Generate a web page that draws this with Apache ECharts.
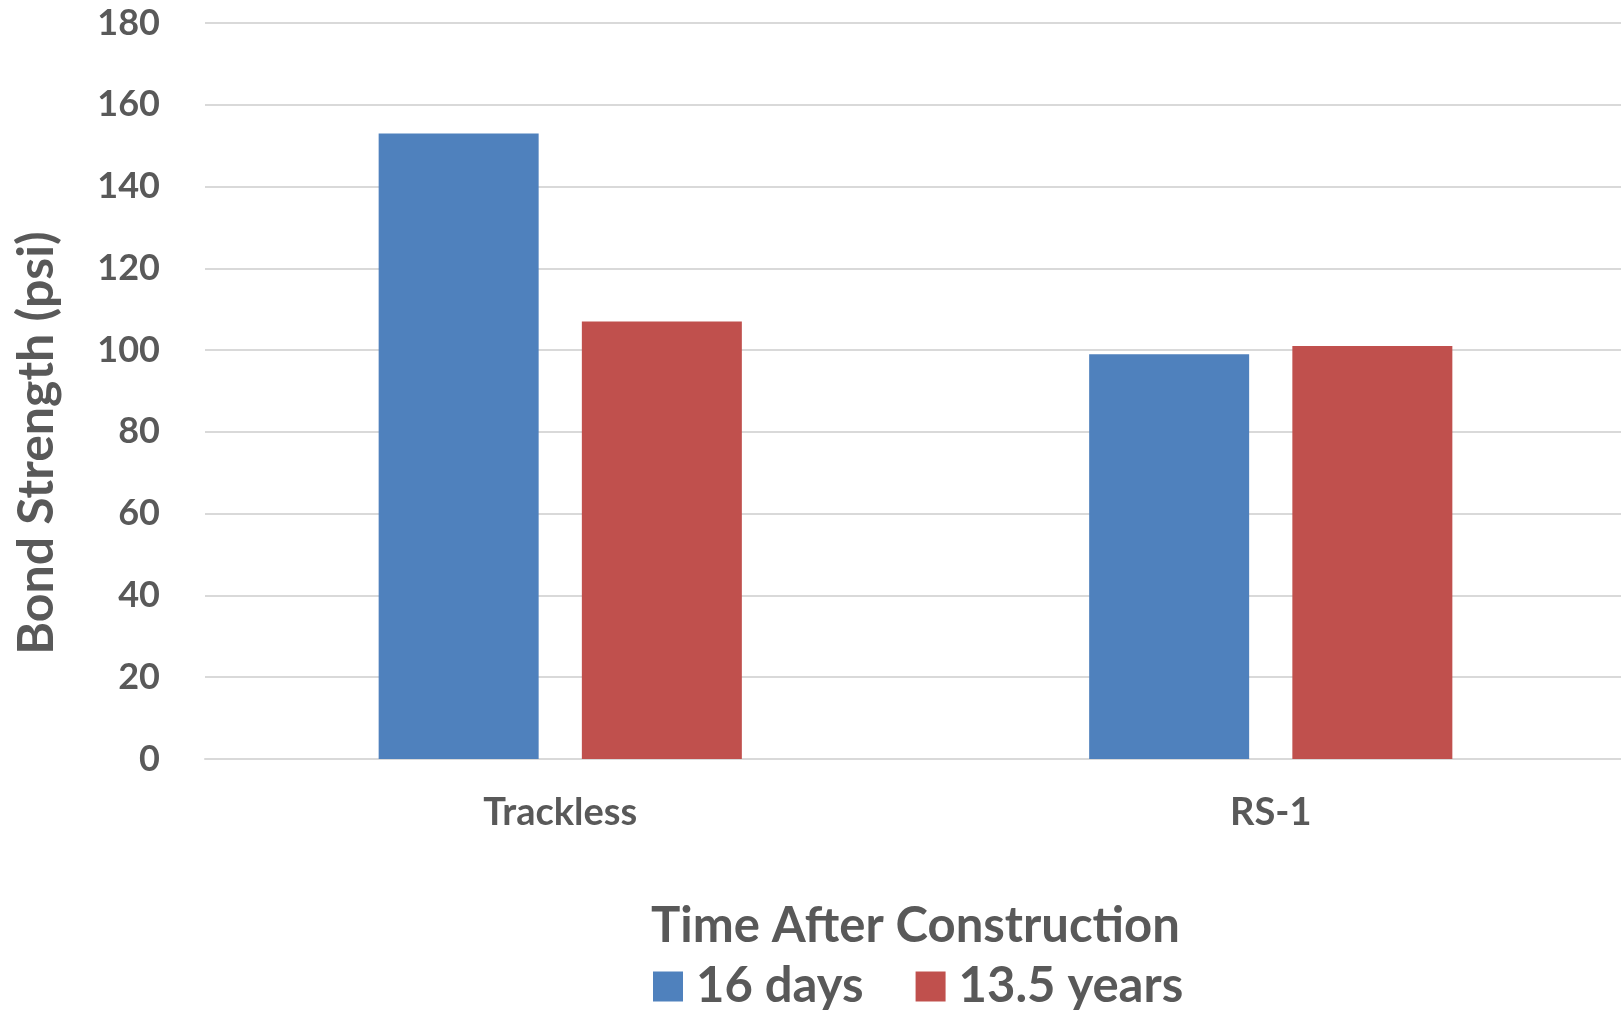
<!DOCTYPE html>
<html>
<head>
<meta charset="utf-8">
<script src="https://cdn.jsdelivr.net/npm/echarts@6/dist/echarts.min.js"></script>
<style>
html,body{margin:0;padding:0;background:#fff;overflow:hidden;}
#chart{width:1640px;height:1012px;}
</style>
</head>
<body>
<div id="chart"></div>
<script>
const categories = ['Trackless', 'RS-1'];
const seriesNames = ['16 days', '13.5 years'];
const days16 = [153, 99];
const years13_5 = [107, 101];
const yTicks = { min: 0, max: 180, interval: 20 };

const txt = '#595959';
const font = 'Lato';
const chart = echarts.init(document.getElementById('chart'));
chart.setOption({
  animation: false,
  backgroundColor: '#ffffff',
  color: ['#4f81bd', '#c0504d'],
  grid: { left: 205, right: 14, top: 23, bottom: 253, containLabel: false },
  legend: {
    data: seriesNames,
    left: 648, top: 957,
    icon: 'rect', itemWidth: 30, itemHeight: 30, itemGap: 52,
    selectedMode: false,
    textStyle: { color: txt, fontFamily: font, fontWeight: 'bold', fontSize: 49, padding: [0, 0, 0, 8] }
  },
  xAxis: {
    type: 'category',
    data: categories,
    name: 'Time After Construction',
    nameLocation: 'middle',
    nameGap: 143,
    nameTextStyle: { color: txt, fontFamily: font, fontWeight: 'bold', fontSize: 49 },
    axisLine: { lineStyle: { color: '#d9d9d9', width: 2 } },
    axisTick: { show: false },
    axisLabel: { color: txt, fontFamily: font, fontWeight: 'bold', fontSize: 38, margin: 35 }
  },
  yAxis: {
    type: 'value',
    min: yTicks.min, max: yTicks.max, interval: yTicks.interval,
    name: 'Bond Strength (psi)',
    nameLocation: 'middle',
    nameGap: 143,
    nameTextStyle: { color: txt, fontFamily: font, fontWeight: 'bold', fontSize: 50, padding: [0, 104, 0, 0] },
    axisLine: { show: false },
    axisTick: { show: false },
    axisLabel: { color: txt, fontFamily: font, fontWeight: 'bold', fontSize: 36, margin: 45 },
    splitLine: { lineStyle: { color: '#d9d9d9', width: 2 } }
  },
  series: [
    { name: seriesNames[0], type: 'bar', data: days16, barWidth: 160, barGap: '27%' },
    { name: seriesNames[1], type: 'bar', data: years13_5, barWidth: 160, barGap: '27%' }
  ]
});
</script>
</body>
</html>
